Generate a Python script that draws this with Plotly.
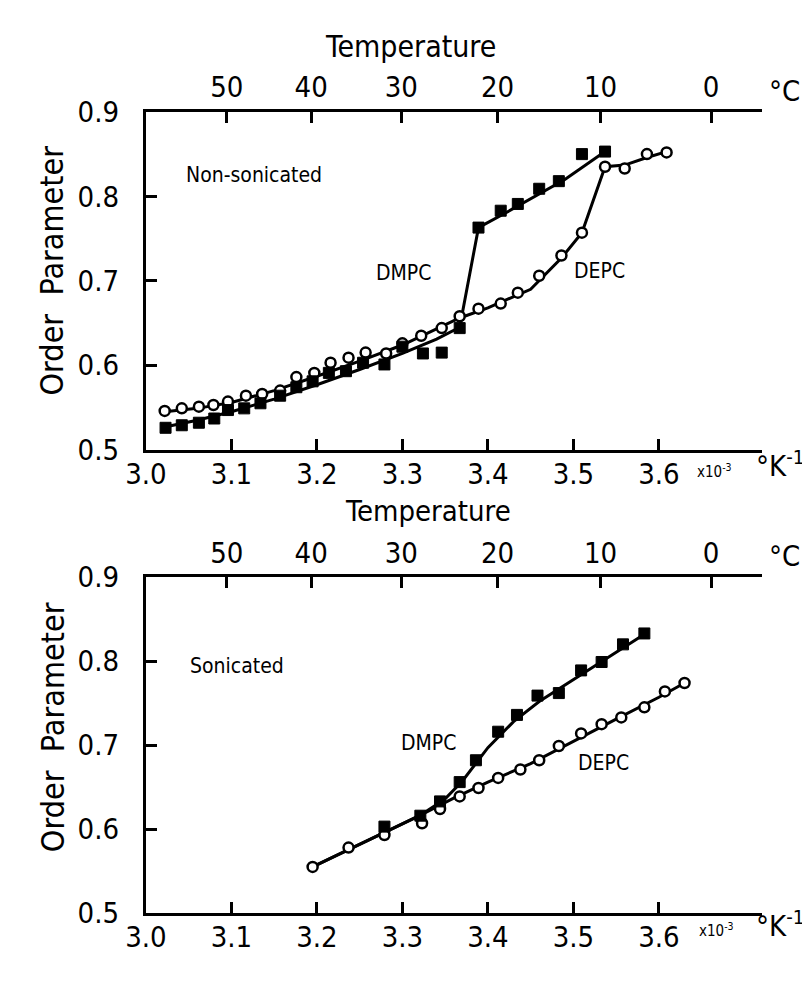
import plotly.graph_objects as go

# ---------------- data ----------------
# x = 1/T in units of 10^-3 K^-1, y = order parameter
# Non-sonicated, DMPC (filled squares)
ns_dmpc_x = [3.023, 3.042, 3.062, 3.080, 3.096, 3.115, 3.134, 3.157, 3.176, 3.195,
             3.214, 3.234, 3.254, 3.279, 3.300, 3.324, 3.346, 3.367, 3.389, 3.415,
             3.435, 3.460, 3.483, 3.510, 3.537]
ns_dmpc_y = [0.526, 0.529, 0.532, 0.537, 0.547, 0.549, 0.555, 0.564, 0.574, 0.581,
             0.591, 0.593, 0.603, 0.601, 0.622, 0.614, 0.615, 0.644, 0.763, 0.783,
             0.791, 0.809, 0.818, 0.850, 0.853]
# Non-sonicated, DEPC (open circles)
ns_depc_x = [3.022, 3.042, 3.062, 3.079, 3.096, 3.117, 3.136, 3.157, 3.176, 3.197,
             3.216, 3.237, 3.257, 3.281, 3.300, 3.322, 3.346, 3.367, 3.389, 3.415,
             3.435, 3.460, 3.486, 3.510, 3.537, 3.560, 3.586, 3.609]
ns_depc_y = [0.546, 0.549, 0.551, 0.553, 0.557, 0.564, 0.566, 0.570, 0.586, 0.591,
             0.603, 0.609, 0.615, 0.614, 0.626, 0.635, 0.644, 0.658, 0.667, 0.673,
             0.686, 0.706, 0.730, 0.757, 0.835, 0.833, 0.850, 0.852]
# Non-sonicated fitted curves
ns_dmpc_fit_x = [3.022, 3.06, 3.10, 3.15, 3.20, 3.25, 3.30, 3.34, 3.367, 3.389, 3.42, 3.45, 3.49, 3.537]
ns_dmpc_fit_y = [0.527, 0.535, 0.545, 0.560, 0.577, 0.595, 0.614, 0.631, 0.645, 0.763, 0.780, 0.797, 0.820, 0.853]
ns_depc_fit_x = [3.022, 3.06, 3.10, 3.15, 3.20, 3.25, 3.30, 3.34, 3.367, 3.40, 3.45, 3.486, 3.510, 3.537, 3.56, 3.586, 3.609]
ns_depc_fit_y = [0.545, 0.549, 0.556, 0.570, 0.587, 0.605, 0.624, 0.643, 0.656, 0.668, 0.690, 0.727, 0.757, 0.835, 0.837, 0.846, 0.853]

# Sonicated, DMPC (filled squares)
so_dmpc_x = [3.279, 3.321, 3.344, 3.367, 3.386, 3.412, 3.434, 3.458, 3.483, 3.509,
             3.533, 3.558, 3.583]
so_dmpc_y = [0.603, 0.616, 0.633, 0.656, 0.682, 0.716, 0.736, 0.759, 0.762, 0.789,
             0.799, 0.820, 0.833]
# Sonicated, DEPC (open circles)
so_depc_x = [3.195, 3.237, 3.279, 3.323, 3.344, 3.367, 3.389, 3.412, 3.438, 3.460,
             3.483, 3.509, 3.533, 3.556, 3.583, 3.607, 3.630]
so_depc_y = [0.555, 0.578, 0.593, 0.607, 0.624, 0.639, 0.649, 0.661, 0.671, 0.682,
             0.699, 0.714, 0.725, 0.733, 0.745, 0.764, 0.774]
# Sonicated fitted curves
so_dmpc_fit_x = [3.195, 3.24, 3.28, 3.32, 3.35, 3.37, 3.40, 3.43, 3.46, 3.50, 3.54, 3.583]
so_dmpc_fit_y = [0.555, 0.577, 0.597, 0.616, 0.636, 0.657, 0.697, 0.728, 0.752, 0.778, 0.804, 0.832]
so_depc_fit_x = [3.195, 3.24, 3.28, 3.32, 3.36, 3.40, 3.45, 3.50, 3.55, 3.60, 3.630]
so_depc_fit_y = [0.555, 0.577, 0.596, 0.616, 0.637, 0.656, 0.678, 0.705, 0.731, 0.757, 0.774]

# ticks
x_ticks = [3.0, 3.1, 3.2, 3.3, 3.4, 3.5, 3.6]
x_tick_text = ["3.0", "3.1", "3.2", "3.3", "3.4", "3.5", "3.6"]
y_ticks = [0.5, 0.6, 0.7, 0.8, 0.9]
y_tick_text = ["0.5", "0.6", "0.7", "0.8", "0.9"]
temps_c = [50, 40, 30, 20, 10, 0]
temp_tick_text = ["50", "40", "30", "20", "10", "0"]
temp_pos = [1000.0 / (t + 273.15) for t in temps_c]

# ---------------- style ----------------
FONT = "DejaVu Sans Condensed, Liberation Sans Narrow, DejaVu Sans, sans-serif"
W, H = 810, 981
OFF = 8  # default page margin of the html body


def fx(px):
    return (px - OFF) / W


def fy(py):
    return 1 - (py - OFF) / H


X_RANGE = [3.0, 3.72]
XDOM = [fx(128), fx(760)]
TOP_DOM = [fy(448), fy(98)]
BOT_DOM = [fy(928), fy(580)]
LINE_W = 3
TICK_FONT = dict(family=FONT, size=29, color="black")

fig = go.Figure()


def add_panel(xa, ya, dmpc_x, dmpc_y, depc_x, depc_y, fdx, fdy, fex, fey):
    fig.add_trace(go.Scatter(x=fdx, y=fdy, mode="lines", xaxis=xa, yaxis=ya,
                             line=dict(color="black", width=LINE_W),
                             showlegend=False, hoverinfo="skip"))
    fig.add_trace(go.Scatter(x=fex, y=fey, mode="lines", xaxis=xa, yaxis=ya,
                             line=dict(color="black", width=LINE_W),
                             showlegend=False, hoverinfo="skip"))
    fig.add_trace(go.Scatter(x=depc_x, y=depc_y, mode="markers", xaxis=xa, yaxis=ya,
                             marker=dict(symbol="circle", size=10, color="white",
                                         line=dict(color="black", width=2.5)),
                             name="DEPC", showlegend=False))
    fig.add_trace(go.Scatter(x=dmpc_x, y=dmpc_y, mode="markers", xaxis=xa, yaxis=ya,
                             marker=dict(symbol="square", size=11, color="black",
                                         line=dict(color="black", width=1)),
                             name="DMPC", showlegend=False))


add_panel("x", "y", ns_dmpc_x, ns_dmpc_y, ns_depc_x, ns_depc_y,
          ns_dmpc_fit_x, ns_dmpc_fit_y, ns_depc_fit_x, ns_depc_fit_y)
add_panel("x3", "y3", so_dmpc_x, so_dmpc_y, so_depc_x, so_depc_y,
          so_dmpc_fit_x, so_dmpc_fit_y, so_depc_fit_x, so_depc_fit_y)

# invisible traces so the temperature axes exist
fig.add_trace(go.Scatter(x=temp_pos, y=[0.9] * len(temp_pos), xaxis="x2", yaxis="y",
                         mode="markers", marker=dict(opacity=0), showlegend=False,
                         hoverinfo="skip"))
fig.add_trace(go.Scatter(x=temp_pos, y=[0.9] * len(temp_pos), xaxis="x4", yaxis="y3",
                         mode="markers", marker=dict(opacity=0), showlegend=False,
                         hoverinfo="skip"))

common_axis = dict(showline=True, linecolor="black", linewidth=3, ticks="inside",
                   ticklen=11, tickwidth=2.5, tickcolor="black", showgrid=False,
                   zeroline=False, tickfont=TICK_FONT)

xa = dict(common_axis, range=X_RANGE, tickvals=x_ticks, ticktext=x_tick_text,
          ticklabelstandoff=-4)
ya = dict(common_axis, range=[0.5, 0.9], tickvals=y_ticks, ticktext=y_tick_text,
          ticklabelstandoff=18)
ta = dict(common_axis, range=X_RANGE, tickvals=temp_pos, ticktext=temp_tick_text,
          side="top", ticklabelstandoff=0)

fig.update_layout(
    width=W, height=H,
    margin=dict(l=0, r=0, t=0, b=0),
    paper_bgcolor="white", plot_bgcolor="white",
    font=dict(family=FONT, color="black"),
    xaxis=dict(xa, domain=XDOM, anchor="y"),
    yaxis=dict(ya, domain=TOP_DOM, anchor="x"),
    xaxis2=dict(ta, overlaying="x", anchor="y"),
    xaxis3=dict(xa, domain=XDOM, anchor="y3"),
    yaxis3=dict(ya, domain=BOT_DOM, anchor="x3"),
    xaxis4=dict(ta, overlaying="x3", anchor="y3"),
)


def ann(text, x, y, size, angle=0, xanchor="center"):
    fig.add_annotation(text=text, x=fx(x), y=fy(y), xref="paper", yref="paper",
                       showarrow=False, textangle=angle, xanchor=xanchor,
                       yanchor="middle", font=dict(family=FONT, size=size, color="black"))


# titles and labels
ann("Temperature", 400, 30, 30)
ann("Temperature", 418, 511, 29)
ann("°C", 784, 76, 29)
ann("°C", 784, 558, 29)
ann("Order  Parameter", 32, 262, 32, angle=-90)
ann("Order  Parameter", 32, 735, 32, angle=-90)
ann("x10<sup>-3</sup>", 712, 470, 15)
ann("°K<sup>-1</sup>", 806, 463, 29, xanchor="right")
ann("x10<sup>-3</sup>", 714, 946, 15)
ann("°K<sup>-1</sup>", 806, 939, 29, xanchor="right")
ann("Non-sonicated", 239, 163, 21)
ann("DMPC", 392, 265, 21)
ann("DEPC", 594, 263, 21)
ann("Sonicated", 222, 672, 21)
ann("DMPC", 418, 752, 21)
ann("DEPC", 598, 772, 21)

fig.write_html("out.html")
